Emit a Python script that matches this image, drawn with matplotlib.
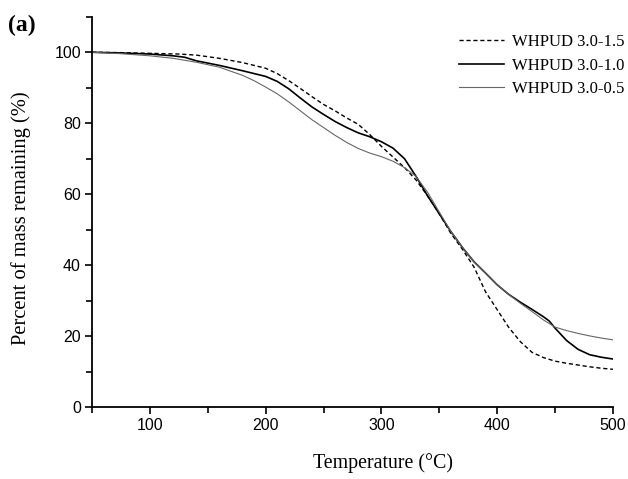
import matplotlib
matplotlib.use("Agg")
import matplotlib.pyplot as plt
from matplotlib.ticker import MultipleLocator

temp_a = [50, 75, 100, 125, 140, 160, 180, 200, 210, 220, 230, 240, 250, 260, 270, 280, 290,
          300, 310, 320, 330, 340, 350, 360, 370, 380, 390, 400, 410, 420, 430, 440, 450,
          460, 470, 480, 490, 500]
whpud_15 = [100, 99.9, 99.7, 99.5, 99.2, 98.3, 97.1, 95.5, 94.0, 92.0, 89.8, 87.5, 85.3, 83.5,
            81.5, 79.7, 76.8, 73.5, 70.5, 67.5, 64.0, 59.5, 54.5, 49.0, 44.5, 39.5, 32.5, 27.5,
            22.5, 18.5, 15.5, 14.0, 13.0, 12.4, 11.9, 11.4, 11.0, 10.7]

temp_b = [50, 75, 100, 120, 130, 140, 160, 180, 190, 200, 210, 220, 230, 240, 250, 260, 270,
          280, 290, 300, 310, 320, 330, 340, 350, 360, 370, 380, 390, 400, 410, 420, 430, 440,
          445, 450, 460, 470, 480, 490, 500]
whpud_10 = [100, 99.8, 99.5, 99.0, 98.6, 97.6, 96.3, 94.8, 94.0, 93.2, 91.8, 89.7, 87.1, 84.6,
            82.5, 80.5, 78.8, 77.3, 76.2, 74.8, 73.0, 70.0, 65.0, 59.5, 54.5, 49.5, 45.0, 41.0,
            37.8, 34.5, 31.8, 29.6, 27.6, 25.5, 24.3, 22.3, 18.8, 16.3, 14.8, 14.1, 13.6]

temp_c = [50, 75, 100, 120, 140, 160, 180, 190, 200, 210, 220, 230, 240, 250, 260, 270, 280,
          290, 300, 310, 320, 330, 340, 350, 360, 370, 380, 390, 400, 410, 420, 430, 440, 450,
          460, 470, 480, 490, 500]
whpud_05 = [100, 99.6, 99.0, 98.3, 97.2, 95.8, 93.5, 92.0, 90.2, 88.3, 86.0, 83.5, 81.0, 78.8,
            76.6, 74.6, 72.9, 71.6, 70.6, 69.3, 67.5, 65.0, 60.5, 55.0, 49.5, 45.0, 41.0, 37.8,
            34.5, 31.8, 29.3, 27.0, 24.6, 22.6, 21.6, 20.8, 20.1, 19.5, 19.0]

labels = ["WHPUD 3.0-1.5", "WHPUD 3.0-1.0", "WHPUD 3.0-0.5"]

fig = plt.figure(figsize=(6.28, 4.79), dpi=100)
ax = fig.add_axes([0.1465, 0.1497, 0.8295, 0.8153])

ax.plot(temp_a, whpud_15, color="black", lw=1.0, ls=(0, (3, 2)), label=labels[0])
ax.plot(temp_b, whpud_10, color="black", lw=1.2, ls="-", label=labels[1])
ax.plot(temp_c, whpud_05, color="0.4", lw=0.8, ls="-", label=labels[2])

ax.set_xlim(50, 500)
ax.set_ylim(0, 110)
ax.xaxis.set_major_locator(MultipleLocator(100))
ax.xaxis.set_minor_locator(MultipleLocator(50))
ax.yaxis.set_major_locator(MultipleLocator(20))
ax.yaxis.set_minor_locator(MultipleLocator(10))
ax.set_xticks([100, 200, 300, 400, 500])
ax.set_yticks([0, 20, 40, 60, 80, 100])

for s in ["top", "right"]:
    ax.spines[s].set_visible(False)
for s in ["left", "bottom"]:
    ax.spines[s].set_linewidth(1.3)

ax.tick_params(which="major", direction="out", length=5, width=1.2,
               labelsize=11.5, pad=3)
ax.tick_params(which="minor", direction="out", length=4, width=1.2)
for lab in ax.get_xticklabels() + ax.get_yticklabels():
    lab.set_family("Liberation Sans")

serif = "Liberation Serif"
ax.set_xlabel("Temperature (°C)", family=serif, fontsize=14.3)
ax.set_ylabel("Percent of mass remaining (%)", family=serif, fontsize=14.8)
ax.xaxis.set_label_coords(0.558, -0.1426)
ax.yaxis.set_label_coords(-0.137, 0.485)
ax.xaxis.label.set_va("center")
ax.yaxis.label.set_va("center")

leg = ax.legend(loc="upper left", frameon=False, prop={"family": serif, "size": 12},
                handlelength=2.7, handletextpad=0.45, labelspacing=0.45,
                borderpad=0, borderaxespad=0,
                bbox_to_anchor=(0.731, 0.929), bbox_transform=fig.transFigure)

fig.text(0.013, 0.935, "(a)", family=serif, fontweight="bold", fontsize=17,
         va="baseline")

fig.savefig("out.png", dpi=100)
